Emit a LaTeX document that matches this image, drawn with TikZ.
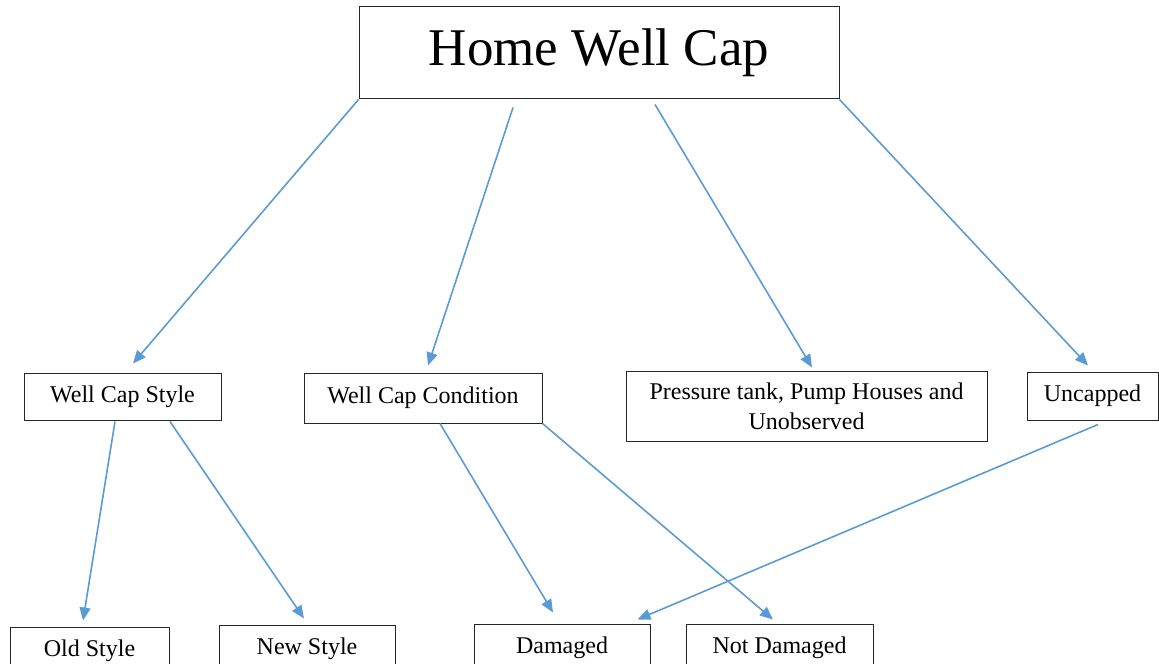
\documentclass[tikz,border=0pt]{standalone}
\usepackage{fontspec}
\setmainfont{Liberation Serif}
\usetikzlibrary{arrows.meta,calc}

\begin{document}
\begin{tikzpicture}[x=0.5pt,y=-0.5pt,
    box/.style={draw=black!85,line width=0.5pt,inner sep=0pt,minimum height=23.5pt,
      font=\fontsize{12}{15}\selectfont,align=center},
    arr/.style={draw={rgb,255:red,91;green,155;blue,213},line width=0.8pt,
      -{Triangle[length=6.5pt,width=5.5pt]}}]
    \useasboundingbox (0,0) rectangle (1159,663);

    \node[box,minimum width=240pt,minimum height=46pt,font=\fontsize{26.5}{30}\selectfont]
      (home) at (599,53) {Home Well Cap};

    \node[box,minimum width=98.5pt] (style) at (122.5,396.5) {Well Cap Style};
    \node[box,minimum width=119pt,minimum height=25pt] (cond) at (423,398) {Well Cap Condition};
    \node[box,minimum width=180.5pt,minimum height=35pt] (tank) at (806.5,406)
      {Pressure tank, Pump Houses and\\Unobserved};
    \node[box,minimum width=65.5pt,minimum height=24pt] (uncap) at (1092.5,396) {Uncapped};

    \node[box,minimum width=79.5pt] (old) at (89.5,650.5) {Old Style};
    \node[box,minimum width=88pt] (new) at (307,648.5) {New Style};
    \node[box,minimum width=88pt] (dam) at (562,647.5) {Damaged};
    \node[box,minimum width=93.5pt] (notdam) at (779.5,647.5) {Not Damaged};

    \draw[arr] (home.south west) -- ($(style.north)+(10.5,-9)$);
    \draw[arr] ($(home.south)+(-86,8)$) -- ($(cond.north)+(5,-7)$);
    \draw[arr] ($(home.south)+(56,5)$) -- ($(tank.north)+(5.5,-3)$);
    \draw[arr] (home.south east) -- ($(uncap.north)+(-4.5,-6)$);

    \draw[arr] ($(style.south)+(-7.5,1)$) -- ($(old.north)+(-6.5,-6)$);
    \draw[arr] ($(style.south)+(47.5,1)$) -- ($(new.north)+(-3,-6)$);

    \draw[arr] ($(cond.south)+(17,0)$) -- ($(dam.north)+(-9,-11)$);
    \draw[arr] (cond.south east) -- ($(notdam.north)+(-6.5,-4)$);

    \draw[arr] ($(uncap.south)+(5.5,4)$) -- ($(dam.north east)+(-13,-4)$);
\end{tikzpicture}
\end{document}
